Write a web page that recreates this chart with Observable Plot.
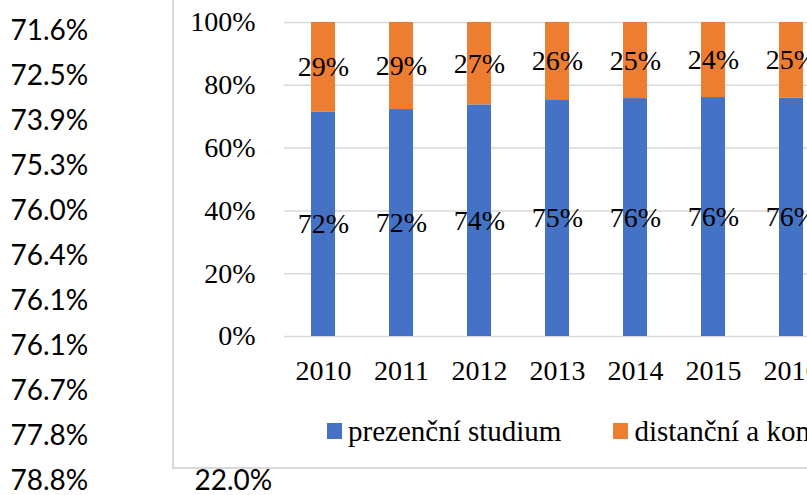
<!DOCTYPE html>
<html>
<head>
<meta charset="utf-8">
<script src="https://cdn.jsdelivr.net/npm/d3@7"></script>
<script src="https://cdn.jsdelivr.net/npm/@observablehq/plot@0.6"></script>
<style>
  html, body { margin: 0; padding: 0; background: #fff; }
  body { width: 807px; height: 495px; overflow: hidden; position: relative; }
  #sheet { position: absolute; left: 0; top: 0; }
  #chart { position: absolute; left: 172px; top: -2px; width: 720px; height: 471px;
           border: 2px solid #d9d9d9; box-sizing: border-box; background: #fff; overflow: hidden; }
  #chart svg { position: absolute; left: 0; top: 2px; }
  #legend { position: absolute; left: 153px; top: 414px; height: 34px; display: flex; align-items: center;
            font-family: "Liberation Serif", "Times New Roman", serif; font-size: 29px; color: #000; white-space: nowrap; }
  #legend .sw { display: inline-block; width: 15px; height: 16px; margin-right: 6px; }
  #legend .item { display: flex; align-items: center; margin-right: 52px; }
</style>
</head>
<body>
<div id="sheet"></div>
<div id="chart"><div id="legend"></div></div>
<script>
// Spreadsheet column (share of full-time study by year)
const sheetYears = [2010, 2011, 2012, 2013, 2014, 2015, 2016, 2017, 2018, 2019, 2020];
const sheetValues = ["71.6%", "72.5%", "73.9%", "75.3%", "76.0%", "76.4%", "76.1%", "76.1%", "76.7%", "77.8%", "78.8%"];
const sheetExtraYear = [2020];
const sheetExtraValue = ["22.0%"];

// Chart data (visible years)
const years = [2010, 2011, 2012, 2013, 2014, 2015, 2016];
const seriesNames = ["prezenční studium", "distanční a kombinované studium"];
const presentValues = [71.6, 72.5, 73.9, 75.3, 76.0, 76.4, 76.1];
const distantValues = [28.7, 27.8, 26.3, 24.9, 24.3, 24.0, 24.2];
const presentLabels = ["72%", "72%", "74%", "75%", "76%", "76%", "76%"];
const distantLabels = ["29%", "29%", "27%", "26%", "25%", "24%", "25%"];
const colors = ["#4472C4", "#ED7D31"];
const yTicks = [0, 0.2, 0.4, 0.6, 0.8, 1];
const yTickLabels = ["0%", "20%", "40%", "60%", "80%", "100%"];

const sheetRows = sheetYears.map((y, i) => ({year: y, text: sheetValues[i]}));
const sheetExtra = sheetExtraYear.map((y, i) => ({year: y, text: sheetExtraValue[i]}));

const sheet = Plot.plot({
  width: 807, height: 495,
  marginTop: 29.5, marginBottom: 12, marginLeft: 0, marginRight: 0,
  y: {type: "point", domain: sheetYears, padding: 0, axis: null},
  style: {fontFamily: "Lato, 'Open Sans', sans-serif", fontSize: "28px", color: "#000", background: "transparent"},
  marks: [
    Plot.text(sheetRows, {y: "year", text: "text", frameAnchor: "left", dx: 10, textAnchor: "start", fill: "#000"}),
    Plot.text(sheetExtra, {y: "year", text: "text", frameAnchor: "left", dx: 194, textAnchor: "start", fill: "#000"})
  ]
});
document.getElementById("sheet").appendChild(sheet);

const data = [];
years.forEach((yr, i) => {
  data.push({year: String(yr), series: seriesNames[0], value: presentValues[i], label: presentLabels[i]});
  data.push({year: String(yr), series: seriesNames[1], value: distantValues[i], label: distantLabels[i]});
});

const chart = Plot.plot({
  width: 656, height: 465,
  marginLeft: 110, marginRight: 0, marginTop: 20, marginBottom: 131,
  style: {fontFamily: "'Liberation Serif', 'Times New Roman', serif", fontSize: "28px", color: "#000", background: "transparent", overflow: "visible"},
  x: {type: "band", domain: years.map(String), paddingInner: 0.686, paddingOuter: 0.343},
  y: {domain: [0, 1]},
  color: {domain: seriesNames, range: colors},
  marks: [
    Plot.ruleY(yTicks, {stroke: "#d9d9d9", strokeWidth: 1.5}),
    Plot.barY(data, Plot.stackY({x: "year", y: "value", z: "series", fill: "series", offset: "normalize", order: seriesNames})),
    Plot.text(data, Plot.stackY({x: "year", y: "value", z: "series", text: "label", offset: "normalize", order: seriesNames, fill: "#000", fontSize: 28})),
    Plot.axisY({ticks: yTicks, tickSize: 0, tickPadding: 29, tickFormat: d => yTickLabels[yTicks.indexOf(d)], label: null, fill: "#000"}),
    Plot.axisX({tickSize: 0, tickPadding: 24, label: null, fill: "#000"})
  ]
});
document.getElementById("chart").appendChild(chart);

const legend = document.getElementById("legend");
seriesNames.forEach((name, i) => {
  const item = document.createElement("span");
  item.className = "item";
  const sw = document.createElement("span");
  sw.className = "sw";
  sw.style.background = colors[i];
  item.appendChild(sw);
  item.appendChild(document.createTextNode(name));
  legend.appendChild(item);
});
</script>
</body>
</html>
